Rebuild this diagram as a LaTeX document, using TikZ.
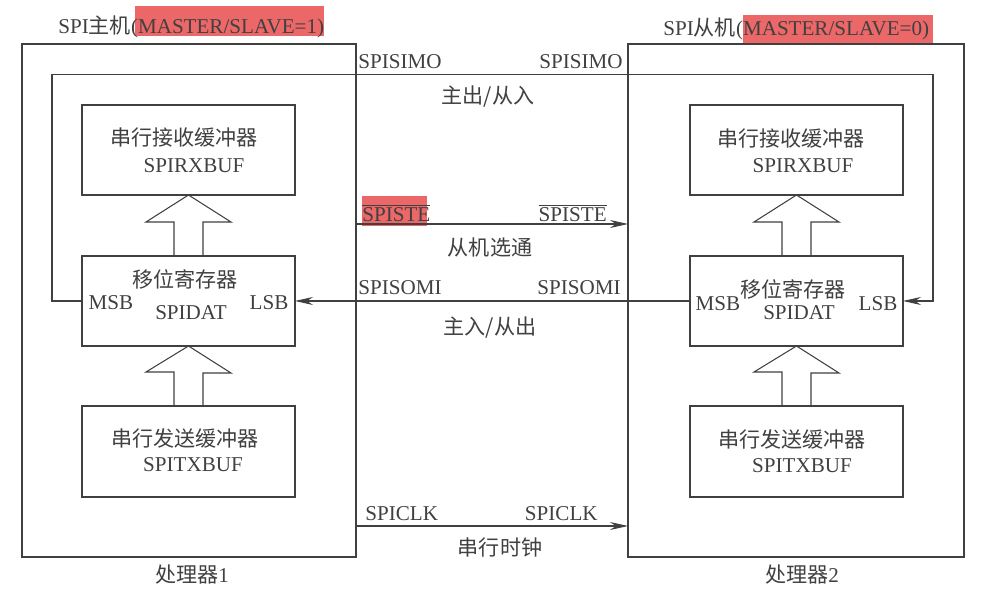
\documentclass[tikz,border=0pt]{standalone}
\usepackage{fontspec}
\setmainfont{Liberation Serif}
\newfontfamily\cjk{Noto Sans CJK SC}
\usetikzlibrary{arrows.meta}
\definecolor{lineGray}{RGB}{64,64,64}
\definecolor{markRed}{RGB}{236,104,104}

\begin{document}
\begin{tikzpicture}[x=0.2mm, y=-0.2mm,
    every node/.style={text=lineGray, inner sep=0pt, font=\fontsize{12}{14}\selectfont},
    box/.style={draw=lineGray, line width=0.6pt, outer sep=0pt},
    wire/.style={draw=lineGray, line width=0.6pt},
    tip/.style={-{Stealth[length=3.6mm, width=1.6mm]}}]
        \useasboundingbox (0,0) rectangle (988,603);
        % marker highlights
        \fill[markRed] (135,6) rectangle (324,36);
        \fill[markRed] (743,15) rectangle (933,43);
        \fill[markRed] (362,196) rectangle (427,226);
        % processors
        \node[box, minimum width=66.8mm, minimum height=102.6mm] (proc1) at (189,300.5) {};
        \node[box, minimum width=67.2mm, minimum height=102.6mm] (proc2) at (796,300.5) {};
        % registers of processor 1
        \node[box, minimum width=42.6mm, minimum height=18mm] (rx1) at (188.5,150) {};
        \node[box, minimum width=42.6mm, minimum height=18mm] (sh1) at (188.5,301) {};
        \node[box, minimum width=42.6mm, minimum height=18.2mm] (tx1) at (188.5,451.5) {};
        % registers of processor 2
        \node[box, minimum width=42.6mm, minimum height=18mm] (rx2) at (796.5,150) {};
        \node[box, minimum width=42.6mm, minimum height=18mm] (sh2) at (796.5,301) {};
        \node[box, minimum width=42.6mm, minimum height=18.2mm] (tx2) at (796.5,451.5) {};
        % hollow transfer arrows
        \foreach \lo/\hi in {sh1/rx1, tx1/sh1, sh2/rx2, tx2/sh2}
          \draw[wire] (\lo.north) ++(-14.5,0) -- ++(0,-34) -- ++(-28,0) -- (\hi.south)
                      -- ++(42.5,27) -- ++(-28,0) -- ++(0,34);
        % box texts
        \node (rx1a) at (184,138) {\cjk 串行接收缓冲器};
        \node (rx1b) at (194,166) {SPIRXBUF};
        \node (sh1a) at (185,279) {\cjk 移位寄存器};
        \node (sh1b) at (191,313) {SPIDAT};
        \node (msb1) at (111,303) {MSB};
        \node (lsb1) at (269,303) {LSB};
        \node (tx1a) at (185,438) {\cjk 串行发送缓冲器};
        \node (tx1b) at (193,465) {SPITXBUF};
        \node (rx2a) at (791,139) {\cjk 串行接收缓冲器};
        \node (rx2b) at (803,166) {SPIRXBUF};
        \node (sh2a) at (793,289) {\cjk 移位寄存器};
        \node (sh2b) at (799,313) {SPIDAT};
        \node (msb2) at (718,304) {MSB};
        \node (lsb2) at (878,304) {LSB};
        \node (tx2a) at (792,439) {\cjk 串行发送缓冲器};
        \node (tx2b) at (802,466) {SPITXBUF};
        % titles
        \node[anchor=base west] (title1) at (58,34) {SPI{\cjk 主机}(MASTER/SLAVE=1)};
        \node[anchor=base west] (title2) at (663,36) {SPI{\cjk 从机}(MASTER/SLAVE=0)};
        \node (name1) at (192,575) {{\cjk 处理器}1};
        \node (name2) at (802,575) {{\cjk 处理器}2};
        % bus lines
        \coordinate (loopL) at (52,74.5);
        \coordinate (loopR) at (933,74.5);
        \coordinate (steA) at (proc1.east |- 0,224);
        \coordinate (steB) at (proc2.west |- 0,224);
        \coordinate (clkA) at (proc1.east |- 0,526);
        \coordinate (clkB) at (proc2.west |- 0,526);
        \draw[wire, tip] (sh1.west) -| (loopL) -- (loopR) |- (sh2.east);   % SPISIMO
        \draw[wire, tip] (steA) -- (steB);                                 % SPISTE
        \draw[wire, tip] (sh2.west) -- (sh1.east);                         % SPISOMI
        \draw[wire, tip] (clkA) -- (clkB);                                 % SPICLK
        % line labels
        \node[anchor=base west] (simoL) at (358,69) {SPISIMO};
        \node[anchor=base east] (simoR) at (623,69) {SPISIMO};
        \node (simoT) at (488,97) {\cjk 主出/从入};
        \node[anchor=base west] (steL) at (362,222) {$\overline{\mbox{SPISTE}}$};
        \node[anchor=base east] (steR) at (607,222) {$\overline{\mbox{SPISTE}}$};
        \node (steT) at (490,247) {\cjk 从机选通};
        \node[anchor=base west] (somiL) at (358,295) {SPISOMI};
        \node[anchor=base east] (somiR) at (621,295) {SPISOMI};
        \node (somiT) at (490,328) {\cjk 主入/从出};
        \node[anchor=base west] (clkL) at (365,521) {SPICLK};
        \node[anchor=base east] (clkR) at (598,521) {SPICLK};
        \node (clkT) at (500,548) {\cjk 串行时钟};
      \end{tikzpicture}
\end{document}
